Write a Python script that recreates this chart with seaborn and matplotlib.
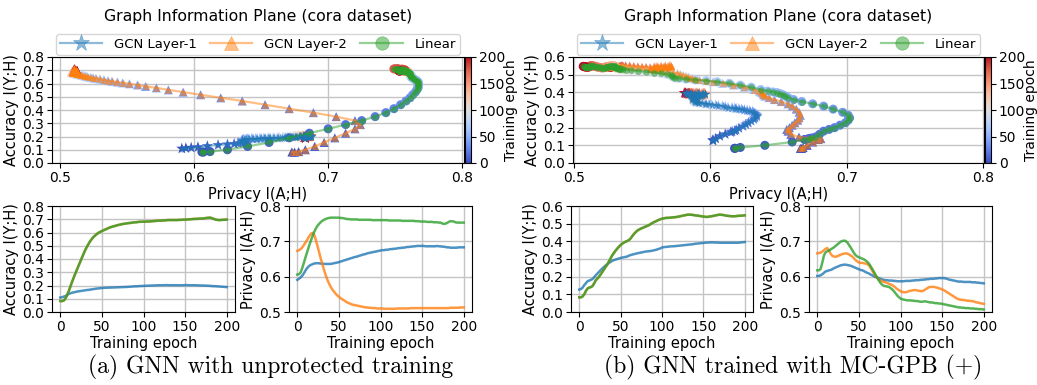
import matplotlib
matplotlib.use("Agg")
import matplotlib.pyplot as plt
import seaborn as sns
import pandas as pd
from matplotlib.colors import Normalize
from matplotlib.cm import ScalarMappable

# ---------------- data (every 2 epochs) ----------------
epochs = list(range(0, 201, 2))

layer_names = ["GCN Layer-1", "GCN Layer-2", "Linear"]
layer_colors = ["#1f77b4", "#ff7f0e", "#2ca02c"]
layer_markers = ["*", "^", "o"]

# (a) unprotected training
acc_a_l1 = [0.109, 0.112, 0.116, 0.12, 0.128, 0.136, 0.141, 0.145, 0.148, 0.151,
            0.154, 0.156, 0.158, 0.16, 0.162, 0.164, 0.166, 0.167, 0.169, 0.171,
            0.173, 0.175, 0.177, 0.178, 0.18, 0.181, 0.182, 0.183, 0.183, 0.184,
            0.184, 0.185, 0.185, 0.186, 0.186, 0.187, 0.187, 0.188, 0.188, 0.189,
            0.189, 0.19, 0.191, 0.192, 0.193, 0.194, 0.194, 0.195, 0.196, 0.196,
            0.197, 0.198, 0.198, 0.199, 0.199, 0.2, 0.2, 0.201, 0.201, 0.202,
            0.202, 0.202, 0.202, 0.203, 0.203, 0.202, 0.202, 0.202, 0.202, 0.202,
            0.202, 0.202, 0.201, 0.202, 0.202, 0.203, 0.203, 0.202, 0.202, 0.202,
            0.202, 0.202, 0.201, 0.201, 0.2, 0.2, 0.2, 0.199, 0.199, 0.198,
            0.197, 0.196, 0.195, 0.195, 0.194, 0.193, 0.192, 0.191, 0.19, 0.189,
            0.188]
acc_a_lin = [0.083, 0.082, 0.086, 0.1, 0.125, 0.155, 0.19, 0.225, 0.258, 0.29,
             0.32, 0.35, 0.38, 0.41, 0.44, 0.468, 0.492, 0.515, 0.535, 0.552,
             0.567, 0.578, 0.589, 0.598, 0.605, 0.611, 0.617, 0.622, 0.628, 0.634,
             0.639, 0.643, 0.647, 0.65, 0.654, 0.657, 0.66, 0.663, 0.665, 0.667,
             0.669, 0.671, 0.672, 0.674, 0.676, 0.677, 0.678, 0.68, 0.681, 0.681,
             0.682, 0.682, 0.683, 0.683, 0.684, 0.685, 0.686, 0.687, 0.688, 0.689,
             0.689, 0.69, 0.691, 0.692, 0.693, 0.694, 0.694, 0.694, 0.694, 0.694,
             0.694, 0.695, 0.695, 0.696, 0.697, 0.697, 0.698, 0.699, 0.7, 0.701,
             0.702, 0.703, 0.703, 0.704, 0.705, 0.705, 0.706, 0.708, 0.71, 0.711,
             0.712, 0.709, 0.704, 0.699, 0.696, 0.694, 0.694, 0.695, 0.696, 0.697,
             0.697]
acc_a_l2 = list(acc_a_lin)  # the two accuracy curves coincide in the figure

priv_a_l1 = [0.591, 0.594, 0.598, 0.603, 0.61, 0.618, 0.625, 0.63, 0.633, 0.635,
             0.637, 0.638, 0.638, 0.638, 0.637, 0.637, 0.636, 0.636, 0.636, 0.636,
             0.636, 0.637, 0.638, 0.639, 0.64, 0.641, 0.643, 0.644, 0.646, 0.647,
             0.649, 0.65, 0.652, 0.653, 0.655, 0.656, 0.657, 0.659, 0.66, 0.662,
             0.663, 0.664, 0.666, 0.667, 0.668, 0.669, 0.67, 0.671, 0.672, 0.673,
             0.674, 0.675, 0.675, 0.676, 0.676, 0.677, 0.678, 0.678, 0.679, 0.679,
             0.68, 0.681, 0.681, 0.682, 0.682, 0.683, 0.684, 0.684, 0.685, 0.685,
             0.686, 0.686, 0.687, 0.687, 0.687, 0.687, 0.687, 0.686, 0.686, 0.686,
             0.686, 0.686, 0.686, 0.686, 0.687, 0.686, 0.686, 0.685, 0.685, 0.684,
             0.683, 0.683, 0.682, 0.682, 0.682, 0.682, 0.682, 0.683, 0.683, 0.683,
             0.683]
priv_a_l2 = [0.673, 0.675, 0.678, 0.683, 0.69, 0.697, 0.705, 0.713, 0.72, 0.724,
             0.72, 0.706, 0.689, 0.671, 0.653, 0.636, 0.62, 0.605, 0.592, 0.581,
             0.572, 0.564, 0.558, 0.552, 0.547, 0.543, 0.539, 0.536, 0.533, 0.53,
             0.527, 0.525, 0.523, 0.521, 0.52, 0.519, 0.518, 0.517, 0.516, 0.515,
             0.514, 0.513, 0.513, 0.512, 0.512, 0.511, 0.511, 0.511, 0.51, 0.51,
             0.51, 0.51, 0.509, 0.509, 0.509, 0.509, 0.509, 0.509, 0.509, 0.509,
             0.51, 0.51, 0.51, 0.51, 0.51, 0.51, 0.51, 0.51, 0.511, 0.511,
             0.511, 0.511, 0.511, 0.511, 0.511, 0.511, 0.511, 0.511, 0.511, 0.511,
             0.511, 0.511, 0.511, 0.511, 0.511, 0.511, 0.511, 0.511, 0.511, 0.511,
             0.511, 0.511, 0.512, 0.512, 0.512, 0.512, 0.512, 0.512, 0.513, 0.513,
             0.513]
priv_a_lin = [0.606, 0.607, 0.612, 0.625, 0.64, 0.656, 0.671, 0.686, 0.7, 0.713,
              0.725, 0.735, 0.743, 0.749, 0.754, 0.758, 0.761, 0.763, 0.765, 0.766,
              0.767, 0.767, 0.767, 0.767, 0.767, 0.767, 0.766, 0.766, 0.765, 0.764,
              0.763, 0.763, 0.762, 0.762, 0.762, 0.762, 0.762, 0.761, 0.761, 0.761,
              0.761, 0.761, 0.761, 0.761, 0.761, 0.76, 0.76, 0.76, 0.76, 0.76,
              0.76, 0.76, 0.76, 0.76, 0.76, 0.759, 0.759, 0.759, 0.759, 0.759,
              0.759, 0.759, 0.759, 0.758, 0.758, 0.758, 0.758, 0.758, 0.758, 0.758,
              0.758, 0.757, 0.757, 0.757, 0.756, 0.756, 0.756, 0.756, 0.755, 0.755,
              0.755, 0.755, 0.754, 0.754, 0.754, 0.753, 0.753, 0.751, 0.749, 0.75,
              0.752, 0.755, 0.757, 0.757, 0.756, 0.754, 0.753, 0.753, 0.753, 0.753,
              0.753]

# (b) trained with MC-GPB (+)
acc_b_l1 = [0.127, 0.13, 0.138, 0.152, 0.163, 0.174, 0.178, 0.182, 0.187, 0.197,
            0.208, 0.218, 0.228, 0.238, 0.247, 0.256, 0.264, 0.271, 0.278, 0.284,
            0.29, 0.294, 0.297, 0.3, 0.303, 0.306, 0.308, 0.31, 0.312, 0.314,
            0.319, 0.322, 0.325, 0.327, 0.33, 0.332, 0.334, 0.336, 0.338, 0.34,
            0.342, 0.343, 0.344, 0.345, 0.347, 0.349, 0.351, 0.354, 0.357, 0.36,
            0.365, 0.367, 0.368, 0.369, 0.37, 0.371, 0.372, 0.372, 0.373, 0.374,
            0.375, 0.376, 0.377, 0.378, 0.379, 0.38, 0.381, 0.382, 0.383, 0.384,
            0.386, 0.387, 0.388, 0.389, 0.39, 0.391, 0.392, 0.393, 0.393, 0.394,
            0.394, 0.394, 0.393, 0.393, 0.393, 0.392, 0.392, 0.392, 0.392, 0.392,
            0.392, 0.392, 0.392, 0.392, 0.392, 0.392, 0.392, 0.393, 0.394, 0.395,
            0.396]
acc_b_lin = [0.083, 0.083, 0.088, 0.1, 0.119, 0.133, 0.138, 0.141, 0.147, 0.162,
             0.18, 0.19, 0.2, 0.214, 0.228, 0.242, 0.256, 0.27, 0.287, 0.305,
             0.322, 0.335, 0.348, 0.359, 0.37, 0.379, 0.387, 0.393, 0.398, 0.402,
             0.407, 0.416, 0.429, 0.441, 0.451, 0.46, 0.466, 0.471, 0.475, 0.479,
             0.483, 0.487, 0.491, 0.497, 0.503, 0.508, 0.512, 0.517, 0.521, 0.525,
             0.528, 0.53, 0.532, 0.533, 0.533, 0.534, 0.535, 0.536, 0.537, 0.538,
             0.54, 0.542, 0.544, 0.546, 0.548, 0.55, 0.551, 0.551, 0.55, 0.549,
             0.547, 0.546, 0.545, 0.543, 0.542, 0.54, 0.539, 0.538, 0.539, 0.541,
             0.542, 0.544, 0.546, 0.548, 0.55, 0.551, 0.55, 0.549, 0.547, 0.545,
             0.544, 0.543, 0.542, 0.542, 0.542, 0.543, 0.544, 0.545, 0.545, 0.546,
             0.547]
acc_b_l2 = list(acc_b_lin)  # the two accuracy curves coincide in the figure

priv_b_l1 = [0.602, 0.602, 0.604, 0.607, 0.611, 0.615, 0.616, 0.618, 0.619, 0.621,
             0.624, 0.626, 0.628, 0.63, 0.632, 0.633, 0.634, 0.634, 0.633, 0.632,
             0.631, 0.629, 0.627, 0.625, 0.623, 0.621, 0.619, 0.618, 0.616, 0.613,
             0.611, 0.609, 0.606, 0.604, 0.601, 0.599, 0.597, 0.596, 0.594, 0.592,
             0.591, 0.59, 0.59, 0.589, 0.589, 0.589, 0.588, 0.588, 0.587, 0.587,
             0.587, 0.587, 0.587, 0.588, 0.588, 0.588, 0.588, 0.589, 0.589, 0.59,
             0.59, 0.59, 0.591, 0.591, 0.592, 0.592, 0.593, 0.593, 0.594, 0.594,
             0.594, 0.595, 0.595, 0.596, 0.596, 0.596, 0.596, 0.595, 0.594, 0.592,
             0.591, 0.59, 0.589, 0.588, 0.587, 0.586, 0.586, 0.586, 0.585, 0.585,
             0.585, 0.585, 0.585, 0.584, 0.584, 0.584, 0.583, 0.583, 0.582, 0.582,
             0.581]
priv_b_l2 = [0.666, 0.667, 0.668, 0.671, 0.675, 0.679, 0.681, 0.674, 0.665, 0.659,
             0.657, 0.656, 0.658, 0.66, 0.662, 0.664, 0.665, 0.666, 0.665, 0.663,
             0.66, 0.657, 0.652, 0.647, 0.643, 0.64, 0.639, 0.639, 0.638, 0.637,
             0.636, 0.632, 0.625, 0.617, 0.609, 0.602, 0.597, 0.592, 0.589, 0.587,
             0.585, 0.584, 0.582, 0.58, 0.578, 0.576, 0.573, 0.569, 0.565, 0.562,
             0.559, 0.557, 0.556, 0.556, 0.557, 0.559, 0.56, 0.561, 0.562, 0.562,
             0.561, 0.56, 0.559, 0.559, 0.561, 0.564, 0.567, 0.57, 0.571, 0.571,
             0.571, 0.57, 0.569, 0.567, 0.566, 0.564, 0.562, 0.559, 0.556, 0.553,
             0.55, 0.547, 0.544, 0.541, 0.538, 0.536, 0.535, 0.534, 0.534, 0.533,
             0.532, 0.532, 0.531, 0.531, 0.53, 0.528, 0.527, 0.526, 0.525, 0.524,
             0.523]
priv_b_lin = [0.618, 0.618, 0.622, 0.64, 0.66, 0.669, 0.672, 0.674, 0.677, 0.68,
              0.683, 0.687, 0.691, 0.695, 0.699, 0.701, 0.702, 0.701, 0.697, 0.69,
              0.683, 0.675, 0.667, 0.661, 0.657, 0.655, 0.653, 0.651, 0.649, 0.646,
              0.642, 0.637, 0.63, 0.622, 0.614, 0.605, 0.597, 0.589, 0.582, 0.577,
              0.574, 0.573, 0.572, 0.571, 0.568, 0.564, 0.559, 0.553, 0.547, 0.542,
              0.538, 0.536, 0.535, 0.534, 0.533, 0.533, 0.533, 0.532, 0.532, 0.531,
              0.531, 0.53, 0.529, 0.529, 0.53, 0.53, 0.529, 0.528, 0.527, 0.527,
              0.526, 0.525, 0.525, 0.524, 0.524, 0.523, 0.522, 0.521, 0.52, 0.519,
              0.518, 0.517, 0.516, 0.515, 0.514, 0.513, 0.513, 0.512, 0.512, 0.511,
              0.511, 0.511, 0.51, 0.51, 0.51, 0.509, 0.509, 0.508, 0.508, 0.508,
              0.507]

title_text = "Graph Information Plane (cora dataset)"
captions = ["(a) GNN with unprotected training", "(b) GNN trained with MC-GPB (+)"]
cbar_ticks = [0, 50, 100, 150, 200]

# ---------------- figure ----------------
W, H = 1037, 385
fig = plt.figure(figsize=(W / 100, H / 100), dpi=100)

FS_TICK = 10
FS_LAB = 10.5


def add_ax(l, t, r, b):
    return fig.add_axes([l / W, 1 - b / H, (r - l) / W, (b - t) / H])


def style(ax):
    ax.grid(True, color="#c4c4c4", linewidth=1.0)
    ax.set_axisbelow(True)
    ax.tick_params(labelsize=FS_TICK, length=3.5, pad=2.5)


panels = [
    dict(acc=[acc_a_l1, acc_a_l2, acc_a_lin], priv=[priv_a_l1, priv_a_l2, priv_a_lin],
         top=(52, 57, 464, 163), cbar=(465, 57, 471, 163),
         b1=(52, 206, 235, 312), b2=(289, 206, 472, 312),
         acc_max=0.8, xlim=(0.4943, 0.8012), cap_x=271),
    dict(acc=[acc_b_l1, acc_b_l2, acc_b_lin], priv=[priv_b_l1, priv_b_l2, priv_b_lin],
         top=(573, 57, 984, 163), cbar=(985, 57, 991, 163),
         b1=(571, 206, 753, 312), b2=(809, 206, 992, 312),
         acc_max=0.6, xlim=(0.4995, 0.8005), cap_x=793),
]

norm = Normalize(0, 200)
msizes = [5.5, 4.2, 4.2]

for p, cap in zip(panels, captions):
    ax = add_ax(*p["top"])
    style(ax)
    for i in range(3):
        df = pd.DataFrame({"epoch": epochs, "priv": p["priv"][i], "acc": p["acc"][i]})
        sns.scatterplot(data=df, x="priv", y="acc", hue="epoch", palette="coolwarm",
                        hue_norm=(0, 200), marker=layer_markers[i],
                        s=(msizes[i] * 1.55) ** 2, linewidth=0, legend=False, ax=ax, zorder=2)
        sns.lineplot(data=df, x="priv", y="acc", sort=False, estimator=None,
                     color=layer_colors[i], alpha=0.5, marker=layer_markers[i],
                     markersize=msizes[i], markeredgewidth=0.5,
                     markeredgecolor=layer_colors[i], linewidth=1.6,
                     label=layer_names[i], ax=ax, zorder=3)
    ax.set_xlim(*p["xlim"])
    ax.set_ylim(0, p["acc_max"])
    ax.set_xticks([0.5, 0.6, 0.7, 0.8])
    ax.set_yticks([round(0.1 * k, 1) for k in range(int(round(p["acc_max"] * 10)) + 1)])
    ax.set_xlabel("Privacy I(A;H)", fontsize=FS_LAB, labelpad=1)
    ax.set_ylabel("Accuracy I(Y;H)", fontsize=FS_LAB, labelpad=2)
    ax.legend(loc="lower center", bbox_to_anchor=(0.5, 1.0), ncol=3, fontsize=9.5,
              markerscale=2.3, handlelength=3.2, columnspacing=1.0, handletextpad=0.9,
              borderaxespad=0.15, borderpad=0.3, frameon=True, fancybox=True)
    cx = (p["top"][0] + p["top"][2]) / 2
    fig.text(cx / W, 1 - 16 / H, title_text, ha="center", va="center", fontsize=11.3)

    cax = add_ax(*p["cbar"])
    cb = fig.colorbar(ScalarMappable(norm=norm, cmap="coolwarm"), cax=cax, ticks=cbar_ticks)
    cb.ax.tick_params(labelsize=FS_TICK, length=3.5, pad=2)
    cb.set_label("Training epoch", fontsize=10, labelpad=-1)

    # bottom: accuracy over epochs
    a1 = add_ax(*p["b1"])
    style(a1)
    for i in range(3):
        sns.lineplot(x=epochs, y=p["acc"][i], color=layer_colors[i], alpha=0.8,
                     linewidth=1.8, ax=a1)
    a1.set_ylim(0, p["acc_max"])
    a1.set_yticks([round(0.1 * k, 1) for k in range(int(round(p["acc_max"] * 10)) + 1)])
    a1.set_xticks([0, 50, 100, 150, 200])
    a1.set_xlabel("Training epoch", fontsize=FS_LAB, labelpad=1)
    a1.set_ylabel("Accuracy I(Y;H)", fontsize=FS_LAB, labelpad=2)

    a2 = add_ax(*p["b2"])
    style(a2)
    for i in range(3):
        sns.lineplot(x=epochs, y=p["priv"][i], color=layer_colors[i], alpha=0.8,
                     linewidth=1.8, ax=a2)
    a2.set_ylim(0.5, 0.8)
    a2.set_yticks([0.5, 0.6, 0.7, 0.8])
    a2.set_xticks([0, 50, 100, 150, 200])
    a2.set_xlabel("Training epoch", fontsize=FS_LAB, labelpad=1)
    a2.set_ylabel("Privacy I(A;H)", fontsize=FS_LAB, labelpad=2)

    fig.text(p["cap_x"] / W, 1 - 367 / H, cap, ha="center", va="center",
             fontsize=17, family="cmr10")

fig.savefig("out.png", dpi=100)
